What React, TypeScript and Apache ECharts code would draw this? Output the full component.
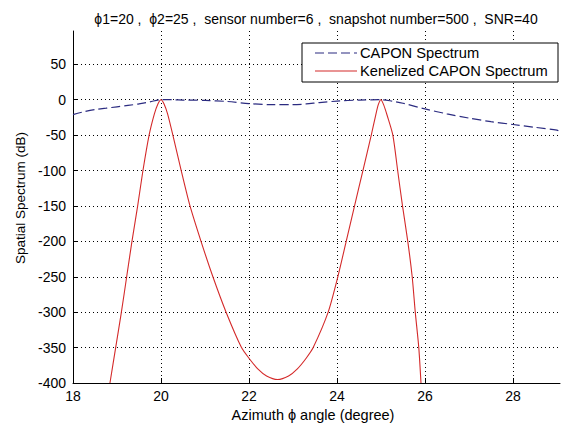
import React, { useEffect, useRef } from "react";
import * as echarts from "echarts";

const titleText = "\u03D51=20 ,  \u03D52=25 ,  sensor number=6 ,  snapshot number=500 ,  SNR=40";
const xLabel = "Azimuth \u03D5 angle (degree)";
const yLabel = "Spatial Spectrum (dB)";
const legendNames = ["CAPON Spectrum", "Kenelized CAPON Spectrum"];

const caponAngles = [18, 18.25, 18.5, 18.75, 19, 19.25, 19.5, 19.75, 20, 20.25, 20.5, 21, 21.5, 22, 22.5, 23, 23.3, 23.6, 24, 24.5, 25, 25.25, 25.5, 26, 26.5, 27, 27.5, 28, 28.5, 29, 29.07];
const caponDb = [-21, -17, -14, -12, -10, -8, -6, -3, 0, 0, -0.5, -1, -2.5, -5.5, -7, -7, -6, -4, -2, -0.5, 0, -2, -5, -13, -20, -26, -31, -35, -39, -43, -45];

const kernelAngles = [18.84, 18.97, 19.1, 19.22, 19.34, 19.47, 19.59, 19.73, 19.85, 19.93, 20.0, 20.07, 20.15, 20.27, 20.46, 20.66, 20.91, 21.18, 21.48, 21.83, 22.0, 22.2, 22.4, 22.65, 22.9, 23.1, 23.3, 23.46, 23.8, 24.02, 24.21, 24.4, 24.59, 24.78, 24.88, 24.94, 25.0, 25.06, 25.14, 25.27, 25.38, 25.49, 25.61, 25.71, 25.78, 25.86, 25.91];
const kernelDb = [-400, -350, -300, -250, -200, -150, -100, -50, -20, -6, 0, -6, -20, -50, -100, -150, -200, -250, -300, -350, -365, -380, -390, -395, -390, -380, -365, -350, -300, -250, -200, -150, -100, -50, -22, -7, 0, -7, -22, -50, -100, -150, -200, -250, -300, -350, -400];

const xMin = 18;
const xMax = 29.07;
const xStep = 2;
const yMin = -400;
const yMax = 97;
const yStep = 50;

export default function App() {
  const ref = useRef<HTMLDivElement>(null);
  useEffect(() => {
    document.body.style.margin = "0";
    const chart = echarts.init(ref.current!, undefined, { renderer: "svg" });
    const font = "'Liberation Sans', Arial, sans-serif";
    const blue = "#2b2b80";
    const red = "#d42a2a";
    chart.setOption({
      animation: false,
      backgroundColor: "#ffffff",
      grid: { left: 73, right: 7, top: 31, bottom: 43 },
      xAxis: {
        type: "value",
        min: xMin,
        max: xMax,
        interval: xStep,
        axisLine: { show: true, onZero: false, lineStyle: { color: "#000", width: 1 } },
        axisTick: { show: true, inside: true, length: 5, lineStyle: { color: "#000" } },
        axisLabel: { color: "#000", fontFamily: font, fontSize: 14, margin: 6, showMaxLabel: false },
        splitLine: { show: true, showMaxLine: false, lineStyle: { color: "#000", type: [1, 3], width: 1 } },
      },
      yAxis: {
        type: "value",
        min: yMin,
        max: yMax,
        interval: yStep,
        axisLine: { show: true, onZero: false, lineStyle: { color: "#000", width: 1 } },
        axisTick: { show: true, inside: true, length: 5, lineStyle: { color: "#000" } },
        axisLabel: { color: "#000", fontFamily: font, fontSize: 14, margin: 7, showMaxLabel: false },
        splitLine: { show: true, showMaxLine: false, lineStyle: { color: "#000", type: [1, 3], width: 1 } },
      },
      series: [
        {
          name: legendNames[0],
          type: "line",
          data: caponAngles.map((a, i) => [a, caponDb[i]]),
          showSymbol: false,
          smooth: 0.3,
          lineStyle: { color: blue, width: 1.2, type: [9, 4] },
          z: 3,
        },
        {
          name: legendNames[1],
          type: "line",
          data: kernelAngles.map((a, i) => [a, kernelDb[i]]),
          showSymbol: false,
          smooth: 0.25,
          lineStyle: { color: red, width: 1.1 },
          z: 2,
        },
      ],
      graphic: [
        {
          type: "text",
          x: 316,
          y: 19,
          z: 100,
          style: { text: titleText, fill: "#000", font: `14px ${font}`, textAlign: "center", textVerticalAlign: "middle" },
        },
        {
          type: "text",
          x: 313,
          y: 415,
          z: 100,
          style: { text: xLabel, fill: "#000", font: `14.5px ${font}`, textAlign: "center", textVerticalAlign: "middle" },
        },
        {
          type: "text",
          x: 20,
          y: 198,
          rotation: Math.PI / 2,
          z: 100,
          style: { text: yLabel, fill: "#000", font: `13.5px ${font}`, textAlign: "center", textVerticalAlign: "middle" },
        },
        {
          type: "rect",
          z: 100,
          shape: { x: 302, y: 43, width: 256, height: 39 },
          style: { fill: "#fff", stroke: "#000", lineWidth: 1 },
        },
        {
          type: "line",
          z: 101,
          shape: { x1: 315, y1: 53, x2: 357, y2: 53 },
          style: { stroke: blue, lineWidth: 1.2, lineDash: [9, 4] },
        },
        {
          type: "line",
          z: 101,
          shape: { x1: 315, y1: 71, x2: 357, y2: 71 },
          style: { stroke: red, lineWidth: 1.1 },
        },
        {
          type: "text",
          x: 360,
          y: 53,
          z: 101,
          style: { text: legendNames[0], fill: "#000", font: `14.7px ${font}`, textVerticalAlign: "middle" },
        },
        {
          type: "text",
          x: 360,
          y: 71,
          z: 101,
          style: { text: legendNames[1], fill: "#000", font: `14.7px ${font}`, textVerticalAlign: "middle" },
        },
      ],
    });
    return () => chart.dispose();
  }, []);
  return <div ref={ref} style={{ width: 567, height: 426 }} />;
}
